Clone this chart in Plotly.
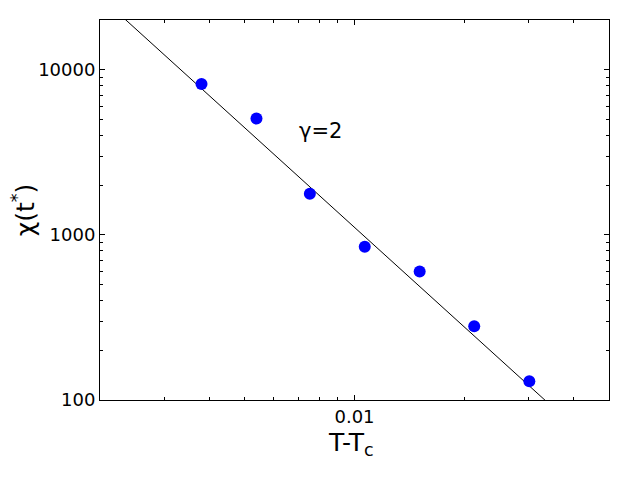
import plotly.graph_objects as go

# data
t_minus_tc = [0.00380, 0.00538, 0.00754, 0.01067, 0.01510, 0.02132, 0.03021]
chi_values = [8190, 5070, 1776, 846, 599, 280, 130]

# power-law guide line (gamma = 2), endpoints
line_x = [0.002, 0.05]
line_y = [27750, 44.4]

x_major = [0.01]
x_major_text = ["0.01"]
x_minor = [0.003, 0.004, 0.005, 0.006, 0.007, 0.008, 0.009, 0.02, 0.03, 0.04]
y_major = [100, 1000, 10000]
y_major_text = ["100", "1000", "10000"]
y_minor = [200, 300, 400, 500, 600, 700, 800, 900,
           2000, 3000, 4000, 5000, 6000, 7000, 8000, 9000]

FONT = "DejaVu Sans"

fig = go.Figure()
fig.add_trace(go.Scatter(x=line_x, y=line_y, mode="lines",
                         line=dict(color="black", width=1), showlegend=False,
                         hoverinfo="skip"))
fig.add_trace(go.Scatter(x=t_minus_tc, y=chi_values, mode="markers",
                         marker=dict(color="#0000ff", size=12, symbol="circle"),
                         showlegend=False))

axis_common = dict(type="log", showgrid=False, zeroline=False, showline=True,
                   linecolor="black", linewidth=1, mirror="allticks",
                   ticks="inside", ticklen=5, tickcolor="black",
                   tickfont=dict(family=FONT, size=18, color="black"))

fig.update_xaxes(**axis_common, range=[-2.69897, -1.30103],
                 tickmode="array", tickvals=x_major, ticktext=x_major_text,
                 minor=dict(tickmode="array", tickvals=x_minor, ticks="inside",
                            ticklen=3, tickcolor="black"))
fig.update_yaxes(**axis_common, range=[2, 4.30103],
                 tickmode="array", tickvals=y_major, ticktext=y_major_text,
                 minor=dict(tickmode="array", tickvals=y_minor, ticks="inside",
                            ticklen=3, tickcolor="black"))

fig.add_annotation(x=-2.093, y=3.630, xref="x", yref="y", text="γ=2",
                   showarrow=False, xanchor="center", yanchor="middle",
                   font=dict(family=FONT, size=21, color="black"))
fig.add_annotation(x=0.494, y=-0.1158, xref="paper", yref="paper",
                   text="T-T<sub>c</sub>", showarrow=False,
                   xanchor="center", yanchor="middle",
                   font=dict(family=FONT, size=25, color="black"))
fig.add_annotation(x=-0.151, y=0.5, xref="paper", yref="paper",
                   text="χ(t<sup>*</sup>)", showarrow=False, textangle=-90,
                   xanchor="center", yanchor="middle",
                   font=dict(family=FONT, size=25, color="black"))

fig.update_layout(width=640, height=480,
                  margin=dict(l=92, r=39, t=12, b=88),
                  paper_bgcolor="white", plot_bgcolor="white",
                  showlegend=False)

fig.write_html("out.html")
